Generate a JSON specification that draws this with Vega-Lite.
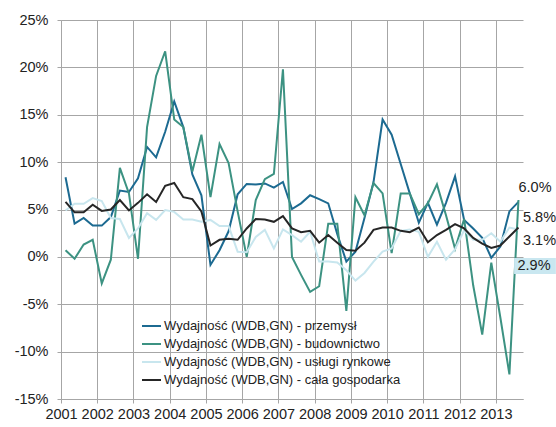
{
  "$schema": "https://vega.github.io/schema/vega-lite/v6.json",
  "autosize": "none",
  "width": 462,
  "height": 379,
  "padding": {"left": 61, "top": 20, "right": 33, "bottom": 28},
  "background": "white",
  "config": {
    "view": {"stroke": null},
    "font": "Liberation Sans",
    "axis": {"labelFont": "Liberation Sans", "labelColor": "#222", "domainColor": "#a6a6a6", "tickColor": "#a6a6a6", "gridColor": "#a6a6a6", "gridWidth": 1, "domainWidth": 1, "title": null}
  },
  "data": {
    "values": [
      {"t": 2001.125, "przemysł": 8.4, "budownictwo": 0.7, "usługi rynkowe": 4.9, "cała gospodarka": 5.8},
      {"t": 2001.375, "przemysł": 3.5, "budownictwo": -0.2, "usługi rynkowe": 5.6, "cała gospodarka": 4.7},
      {"t": 2001.625, "przemysł": 4.1, "budownictwo": 1.3, "usługi rynkowe": 5.6, "cała gospodarka": 4.7},
      {"t": 2001.875, "przemysł": 3.3, "budownictwo": 1.8, "usługi rynkowe": 6.2, "cała gospodarka": 5.5},
      {"t": 2002.125, "przemysł": 3.3, "budownictwo": -2.8, "usługi rynkowe": 5.9, "cała gospodarka": 4.85},
      {"t": 2002.375, "przemysł": 4.2, "budownictwo": -0.3, "usługi rynkowe": 4.1, "cała gospodarka": 5.0},
      {"t": 2002.625, "przemysł": 7.0, "budownictwo": 9.4, "usługi rynkowe": 4.0, "cała gospodarka": 6.0},
      {"t": 2002.875, "przemysł": 6.85, "budownictwo": 6.7, "usługi rynkowe": 2.0, "cała gospodarka": 4.9},
      {"t": 2003.125, "przemysł": 8.3, "budownictwo": -0.2, "usługi rynkowe": 3.0, "cała gospodarka": 5.7},
      {"t": 2003.375, "przemysł": 11.6, "budownictwo": 13.7, "usługi rynkowe": 4.6, "cała gospodarka": 6.6},
      {"t": 2003.625, "przemysł": 10.5, "budownictwo": 19.1, "usługi rynkowe": 3.9, "cała gospodarka": 5.8},
      {"t": 2003.875, "przemysł": 13.2, "budownictwo": 21.7, "usługi rynkowe": 4.95, "cała gospodarka": 7.5},
      {"t": 2004.125, "przemysł": 16.4, "budownictwo": 14.5, "usługi rynkowe": 4.75, "cała gospodarka": 7.8},
      {"t": 2004.375, "przemysł": 13.7, "budownictwo": 13.7, "usługi rynkowe": 3.95, "cała gospodarka": 6.3},
      {"t": 2004.625, "przemysł": 8.7, "budownictwo": 9.0, "usługi rynkowe": 3.95, "cała gospodarka": 6.1},
      {"t": 2004.875, "przemysł": 6.5, "budownictwo": 12.9, "usługi rynkowe": 3.7, "cała gospodarka": 4.8},
      {"t": 2005.125, "przemysł": -0.85, "budownictwo": 6.3, "usługi rynkowe": 3.9, "cała gospodarka": 1.2},
      {"t": 2005.375, "przemysł": 0.7, "budownictwo": 11.9, "usługi rynkowe": 3.25, "cała gospodarka": 1.8},
      {"t": 2005.625, "przemysł": 2.7, "budownictwo": 9.9, "usługi rynkowe": 3.25, "cała gospodarka": 1.9},
      {"t": 2005.875, "przemysł": 6.6, "budownictwo": 4.8, "usługi rynkowe": 0.55, "cała gospodarka": 1.8},
      {"t": 2006.125, "przemysł": 7.7, "budownictwo": 0.0, "usługi rynkowe": 0.5, "cała gospodarka": 3.0},
      {"t": 2006.375, "przemysł": 7.65, "budownictwo": 6.0, "usługi rynkowe": 2.1, "cała gospodarka": 4.0},
      {"t": 2006.625, "przemysł": 7.75, "budownictwo": 8.2, "usługi rynkowe": 2.85, "cała gospodarka": 3.95},
      {"t": 2006.875, "przemysł": 7.3, "budownictwo": 8.75, "usługi rynkowe": 0.9, "cała gospodarka": 3.7},
      {"t": 2007.125, "przemysł": 7.9, "budownictwo": 19.8, "usługi rynkowe": 2.9, "cała gospodarka": 4.3},
      {"t": 2007.375, "przemysł": 5.05, "budownictwo": 0.0, "usługi rynkowe": 2.3, "cała gospodarka": 3.0},
      {"t": 2007.625, "przemysł": 5.65, "budownictwo": -1.9, "usługi rynkowe": 1.6, "cała gospodarka": 2.6},
      {"t": 2007.875, "przemysł": 6.5, "budownictwo": -3.7, "usługi rynkowe": 2.65, "cała gospodarka": 2.75},
      {"t": 2008.125, "przemysł": 6.1, "budownictwo": -3.1, "usługi rynkowe": -0.5, "cała gospodarka": 1.5},
      {"t": 2008.375, "przemysł": 5.65, "budownictwo": 3.5, "usługi rynkowe": -0.5, "cała gospodarka": 2.3},
      {"t": 2008.625, "przemysł": 2.4, "budownictwo": 3.5, "usługi rynkowe": -0.6, "cała gospodarka": 1.5},
      {"t": 2008.875, "przemysł": -0.5, "budownictwo": -5.7, "usługi rynkowe": -1.4, "cała gospodarka": 0.73},
      {"t": 2009.125, "przemysł": 0.55, "budownictwo": 6.3, "usługi rynkowe": -2.5, "cała gospodarka": 0.65},
      {"t": 2009.375, "przemysł": 4.1, "budownictwo": 4.4, "usługi rynkowe": -1.7, "cała gospodarka": 1.5},
      {"t": 2009.625, "przemysł": 7.9, "budownictwo": 7.8, "usługi rynkowe": -0.5, "cała gospodarka": 2.85},
      {"t": 2009.875, "przemysł": 14.5, "budownictwo": 6.7, "usługi rynkowe": 0.55, "cała gospodarka": 3.1},
      {"t": 2010.125, "przemysł": 12.9, "budownictwo": 0.4, "usługi rynkowe": 0.9, "cała gospodarka": 3.1},
      {"t": 2010.375, "przemysł": 9.8, "budownictwo": 6.7, "usługi rynkowe": 2.75, "cała gospodarka": 2.75},
      {"t": 2010.625, "przemysł": 6.7, "budownictwo": 6.7, "usługi rynkowe": 2.9, "cała gospodarka": 2.6},
      {"t": 2010.875, "przemysł": 3.6, "budownictwo": 4.5, "usługi rynkowe": 2.65, "cała gospodarka": 3.1},
      {"t": 2011.125, "przemysł": 5.7, "budownictwo": 5.65, "usługi rynkowe": 0.0, "cała gospodarka": 1.55},
      {"t": 2011.375, "przemysł": 3.4, "budownictwo": 7.65, "usługi rynkowe": 1.6, "cała gospodarka": 2.3},
      {"t": 2011.625, "przemysł": 5.7, "budownictwo": 4.4, "usługi rynkowe": -0.3, "cała gospodarka": 2.85},
      {"t": 2011.875, "przemysł": 8.5, "budownictwo": 0.85, "usługi rynkowe": 0.8, "cała gospodarka": 3.45},
      {"t": 2012.125, "przemysł": 3.9, "budownictwo": 4.0, "usługi rynkowe": 2.8, "cała gospodarka": 3.0},
      {"t": 2012.375, "przemysł": 3.0, "budownictwo": -3.0, "usługi rynkowe": 1.8, "cała gospodarka": 2.0},
      {"t": 2012.625, "przemysł": 2.0, "budownictwo": -8.2, "usługi rynkowe": 1.8, "cała gospodarka": 1.4},
      {"t": 2012.875, "przemysł": -0.1, "budownictwo": -0.6, "usługi rynkowe": 2.5, "cała gospodarka": 0.95},
      {"t": 2013.125, "przemysł": 1.1, "budownictwo": -6.4, "usługi rynkowe": 1.6, "cała gospodarka": 1.2},
      {"t": 2013.375, "przemysł": 4.8, "budownictwo": -12.4, "usługi rynkowe": 3.1, "cała gospodarka": 2.15},
      {"t": 2013.625, "przemysł": 5.8, "budownictwo": 6.0, "usługi rynkowe": 2.9, "cała gospodarka": 3.1}
    ]
  },
  "transform": [
    {"fold": ["przemysł", "budownictwo", "usługi rynkowe", "cała gospodarka"], "as": ["series", "value"]},
    {"calculate": "format(datum.value, '.1f') + '%'", "as": "label"}
  ],
  "encoding": {
    "x": {
      "field": "t", "type": "quantitative",
      "scale": {"domain": [2001, 2013.75], "nice": false, "zero": false},
      "axis": {"values": [2001,2002,2003,2004,2005,2006,2007,2008,2009,2010,2011,2012,2013], "format": "d", "grid": true, "tickSize": 4, "labelPadding": 4, "labelFontSize": 14.5, "labelDx": 4.5, "labelOverlap": false, "labelFlush": false, "labelBound": false}
    },
    "y": {
      "field": "value", "type": "quantitative",
      "scale": {"domain": [-15, 25], "nice": false},
      "axis": {"values": [-15,-10,-5,0,5,10,15,20,25], "labelExpr": "datum.value + '%'", "grid": true, "tickSize": 4, "labelPadding": 9, "labelFontSize": 14.5}
    }
  },
  "layer": [
    {
      "mark": {"type": "line", "strokeWidth": 2},
      "encoding": {
        "color": {
          "field": "series", "type": "nominal",
          "scale": {"domain": ["przemysł", "budownictwo", "usługi rynkowe", "cała gospodarka"], "range": ["#1c6a91", "#3c9282", "#c8e6ee", "#262626"]},
          "legend": {
            "orient": "none", "legendX": 80, "legendY": 295.5, "title": null,
            "symbolType": "stroke", "symbolSize": 361, "symbolStrokeWidth": 2,
            "labelExpr": "'Wydajność (WDB,GN) - ' + datum.label",
            "labelFont": "Liberation Sans", "labelFontSize": 13, "labelColor": "#222",
            "labelOffset": 2, "rowPadding": 0, "padding": 0, "labelLimit": 400
          }
        }
      }
    },
    {
      "transform": [{"filter": "datum.series == 'usługi rynkowe' && datum.t == 2013.625"}],
      "mark": {"type": "rect", "color": "#c9e7f0", "xOffset": -4.4, "x2Offset": 37.4, "yOffset": 28.6, "y2Offset": 44.6},
      "encoding": {"x2": {"field": "t"}, "y2": {"field": "value"}}
    },
    {
      "transform": [{"filter": "datum.series == 'budownictwo' && datum.t == 2013.625"}],
      "mark": {"type": "text", "align": "left", "baseline": "middle", "dx": 0, "dy": -12, "fontSize": 14.5, "color": "#222"},
      "encoding": {"text": {"field": "label"}}
    },
    {
      "transform": [{"filter": "datum.series == 'przemysł' && datum.t == 2013.625"}],
      "mark": {"type": "text", "align": "left", "baseline": "middle", "dx": 4.5, "dy": 16, "fontSize": 14.5, "color": "#222"},
      "encoding": {"text": {"field": "label"}}
    },
    {
      "transform": [{"filter": "datum.series == 'cała gospodarka' && datum.t == 2013.625"}],
      "mark": {"type": "text", "align": "left", "baseline": "middle", "dx": 4.5, "dy": 13.5, "fontSize": 14.5, "color": "#222"},
      "encoding": {"text": {"field": "label"}}
    },
    {
      "transform": [{"filter": "datum.series == 'usługi rynkowe' && datum.t == 2013.625"}],
      "mark": {"type": "text", "align": "left", "baseline": "middle", "dx": -1, "dy": 36.6, "fontSize": 14.5, "color": "#222"},
      "encoding": {"text": {"field": "label"}}
    }
  ]
}
